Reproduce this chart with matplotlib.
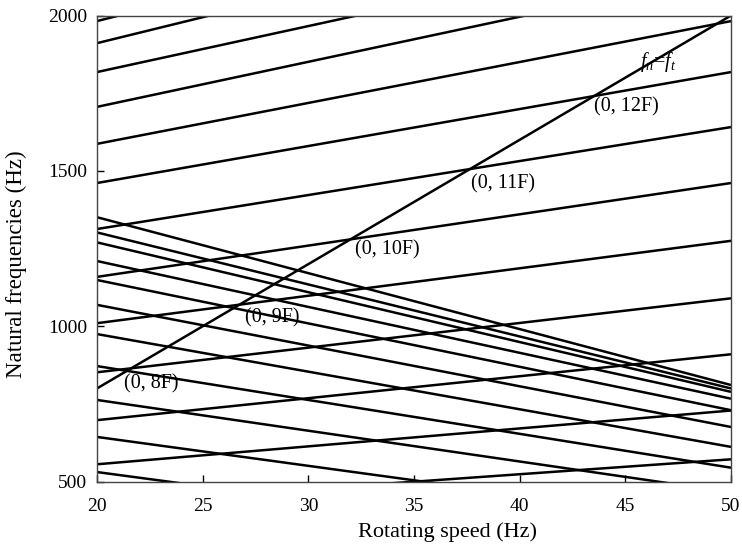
import matplotlib
matplotlib.use("Agg")
import matplotlib.pyplot as plt

# Rotating speed range (Hz)
speed = [20, 50]

# Forward (rising) natural-frequency lines: value at 20 Hz and at 50 Hz
forward_start = [1982, 1911, 1818, 1706, 1587, 1461, 1313, 1159, 1010, 852, 698, 556, 428]
forward_end   = [2500, 2412, 2262, 2141, 1982, 1818, 1641, 1461, 1275, 1090, 910, 729, 572]

# Backward (falling) natural-frequency lines: value at 20 Hz and at 50 Hz
backward_start = [1351, 1302, 1270, 1210, 1149, 1069, 975, 872, 763, 644, 531]
backward_end   = [811, 800, 789, 767, 730, 676, 612, 545, 466, 365, 258]

# Excitation line fn = ft
excitation = [800, 2000]

# Crossing labels (x, y, text)
label_x = [21.3, 27.0, 32.2, 37.7, 43.5]
label_y = [816, 1027, 1245, 1458, 1705]
label_text = ["(0, 8F)", "(0, 9F)", "(0, 10F)", "(0, 11F)", "(0, 12F)"]

plt.rcParams['font.family'] = ['Liberation Serif', 'DejaVu Serif']
plt.rcParams['mathtext.fontset'] = 'custom'
plt.rcParams['mathtext.it'] = 'Liberation Serif:italic'
plt.rcParams['mathtext.rm'] = 'Liberation Serif'

fig = plt.figure(figsize=(7.42, 5.48), dpi=100)
ax = fig.add_axes([0.1307, 0.121, 0.8545, 0.8507])

lw = 1.8
for s, e in zip(forward_start, forward_end):
    ax.plot(speed, [s, e], color='black', lw=lw, solid_capstyle='butt')
for s, e in zip(backward_start, backward_end):
    ax.plot(speed, [s, e], color='black', lw=lw, solid_capstyle='butt')
ax.plot(speed, excitation, color='black', lw=lw, solid_capstyle='butt')

for x, y, t in zip(label_x, label_y, label_text):
    ax.text(x, y, t, fontsize=14.5, va='center', ha='left')
ax.text(45.7, 1852, r'$f_n$=$f_t$', fontsize=14.5, va='center', ha='left')

ax.set_xlim(20, 50)
ax.set_ylim(500, 2000)
ax.set_xticks([20, 25, 30, 35, 40, 45, 50])
ax.set_yticks([500, 1000, 1500, 2000])
ax.tick_params(direction='in', length=5, width=1, labelsize=14, colors='black')
ax.tick_params(axis='x', pad=12)
ax.tick_params(axis='y', pad=7)
for sp in ax.spines.values():
    sp.set_linewidth(1.0)
    sp.set_color('#444444')

fig.text(448 / 742, 1 - 532 / 548, 'Rotating speed (Hz)', fontsize=16,
         ha='center', va='center')
fig.text(16 / 742, 1 - 264 / 548, 'Natural frequencies (Hz)', fontsize=16.5,
         ha='center', va='center', rotation=90)

fig.savefig('out.png', dpi=100)
